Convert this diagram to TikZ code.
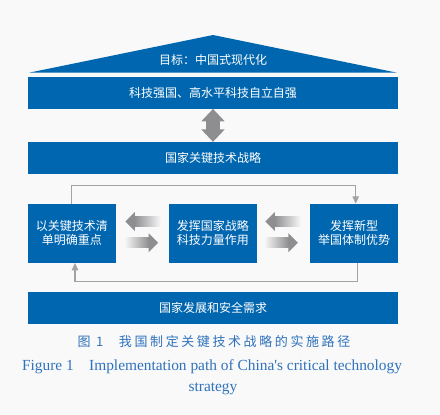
\documentclass[tikz,border=0pt]{standalone}
\usepackage{fontspec}
\setmainfont{Liberation Serif}
\newfontfamily\cjk{Noto Sans CJK SC}
\newfontfamily\capcjk[LetterSpace=20]{Noto Sans CJK SC}
\usetikzlibrary{arrows.meta,calc}

\definecolor{boxblue}{HTML}{0066B0}
\definecolor{bggray}{HTML}{F9F9F9}
\definecolor{arrowgray}{HTML}{8E8E91}
\definecolor{linegray}{HTML}{A3A3A5}
\definecolor{capblue}{HTML}{2F72BC}

\tikzset{
  bar/.style={fill=boxblue, text=white, minimum width=370pt, minimum height=31.7pt,
    inner sep=0pt, font=\cjk\fontsize{12}{14}\selectfont},
  block/.style={fill=boxblue, text=white, minimum width=88pt, minimum height=58.7pt,
    inner sep=0pt, align=center, font=\cjk\fontsize{12}{14}\selectfont},
  loopline/.style={draw=linegray, line width=1.2pt, -{Triangle[length=7.5pt,width=6.5pt]}},
  caption/.style={text=capblue, inner sep=0pt}
}

% fading arrows, #1 is the tip
\newcommand{\fadeleft}[1]{%
  \shade[left color=arrowgray, right color=arrowgray!8] ($(#1)+(9.3,-5)$) rectangle ($(#1)+(35,5)$);
  \fill[arrowgray] (#1) -- ($(#1)+(9.5,-9.5)$) -- ($(#1)+(9.5,9.5)$) -- cycle;}
\newcommand{\faderight}[1]{%
  \shade[right color=arrowgray, left color=arrowgray!8] ($(#1)+(-9.3,-5)$) rectangle ($(#1)+(-33,5)$);
  \fill[arrowgray] (#1) -- ($(#1)+(-9.5,-9.5)$) -- ($(#1)+(-9.5,9.5)$) -- cycle;}

\begin{document}
\begin{tikzpicture}[x=1pt,y=-1pt]

        %page background
        \fill[bggray] (0,0) rectangle (440,415);

        %roof with the goal
        \fill[boxblue] (29,72.7) -- (213,35) -- (397,72.7) -- cycle;
        \node[text=white, font=\cjk\fontsize{12}{14}\selectfont] (goal) at (213,60) {目标：中国式现代化};

        %bars
        \node[bar] (power) at (213,92.8) {科技强国、高水平科技自立自强};
        \node[bar] (strategy) at (213,157.9) {国家关键技术战略};
        \node[bar] (demand) at (213,308) {国家发展和安全需求};

        %double arrow between the two top bars
        \draw[arrowgray, line width=13.3pt,
          {Triangle[length=12.5pt,width=22.7pt]}-{Triangle[length=12.5pt,width=22.7pt]}]
          (power.south) -- (strategy.north);

        %three blocks
        \node[block] (focus) at (71.8,233.3) {以关键技术清\\单明确重点};
        \node[block] (force) at (212.8,233.3) {发挥国家战略\\科技力量作用};
        \node[block] (system) at (354,233.3) {发挥新型\\举国体制优势};

        %arrows between the blocks
        \coordinate (fl1) at ($(focus.east)+(9.3,-11.8)$);
        \coordinate (fr1) at ($(force.west)+(-10.5,9.5)$);
        \coordinate (fl2) at ($(force.east)+(8.3,-11.8)$);
        \coordinate (fr2) at ($(system.west)+(-12,9.5)$);
        \fadeleft{fl1}
        \faderight{fr1}
        \fadeleft{fl2}
        \faderight{fr2}

        %feedback loops
        \draw[loopline] (focus.north) -- ++(0,-18) -| ([xshift=1.7pt]system.north);
        \draw[loopline] ([xshift=3.7pt]system.south) -- ++(0,18.3) -| ([xshift=3.2pt]focus.south);

        %caption
        \node[caption, font=\capcjk\fontsize{13}{15}\selectfont] (capzh) at (214,341.7)
          {图 1\hspace{1.2em}我国制定关键技术战略的实施路径};
        \node[caption, font=\fontsize{15.4}{17}\selectfont] (capen) at (212,366.7)
          {Figure 1\hspace{1em}Implementation path of China\textquotesingle s critical technology};
        \node[caption, font=\fontsize{15.4}{17}\selectfont] (capen2) at (213,389) {strategy};

\end{tikzpicture}
\end{document}
